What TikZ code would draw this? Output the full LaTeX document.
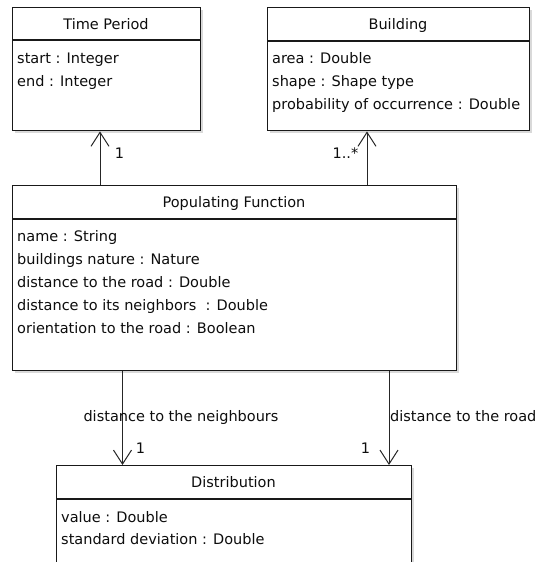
\documentclass[tikz,border=0pt]{standalone}
\usepackage{fontspec}
\setmainfont{DejaVu Sans}
\usetikzlibrary{arrows.meta, shadows, positioning}

\begin{document}
\begin{tikzpicture}[
    x=1pt, y=-1pt,
    every node/.style={font=\fontsize{14.5}{17}\selectfont, text=black!95, inner sep=0pt},
    classbox/.style={draw=black!90, line width=1.4pt, fill=white, anchor=north west,
      drop shadow={shadow xshift=2pt, shadow yshift=-2pt, opacity=0.3}},
    sepline/.style={draw=black!90, line width=1.3pt},
    cname/.style={anchor=base},
    attr/.style={anchor=base west},
    assoc/.style={-{Straight Barb[length=14pt, width=18pt]}, line width=1pt, draw=black!85},
    mult/.style={anchor=base},
]
\useasboundingbox (0,0) rectangle (537,562);
\clip (0,0) rectangle (537,562);

% Time Period
\node[classbox, minimum width=188pt, minimum height=123pt] (tp) at (12,7) {};
\draw[sepline] ([yshift=-33pt]tp.north west) -- ([yshift=-33pt]tp.north east);
\node[cname] (tpName) at (106,29) {Time Period};
\foreach \t [count=\i] in {start : Integer, end : Integer}
  \node[attr] (tpA\i) at (17,41+22.7*\i) {\t};

% Building
\node[classbox, minimum width=262pt, minimum height=123pt] (bd) at (267,7) {};
\draw[sepline] ([yshift=-34pt]bd.north west) -- ([yshift=-34pt]bd.north east);
\node[cname] (bdName) at (398,29) {Building};
\foreach \t [count=\i] in {area : Double, shape : Shape type, probability of occurrence : Double}
  \node[attr] (bdA\i) at (272,41+22.7*\i) {\t};

% Populating Function
\node[classbox, minimum width=444pt, minimum height=185pt] (pf) at (12,185) {};
\draw[sepline] ([yshift=-34pt]pf.north west) -- ([yshift=-34pt]pf.north east);
\node[cname] (pfName) at (234,207) {Populating Function};
\foreach \t [count=\i] in {name : String, buildings nature : Nature, distance to the road : Double,
    distance to its neighbors\ \ : Double, orientation to the road : Boolean}
  \node[attr] (pfA\i) at (17,219+22.8*\i) {\t};

% Distribution
\node[classbox, minimum width=355pt, minimum height=150pt] (ds) at (56,465) {};
\draw[sepline] ([yshift=-34pt]ds.north west) -- ([yshift=-34pt]ds.north east);
\node[cname] (dsName) at (233.5,487) {Distribution};
\foreach \t [count=\i] in {value : Double, standard deviation : Double}
  \node[attr] (dsA\i) at (61,499.5+22.7*\i) {\t};

% associations
\draw[assoc] (pf.north -| 100,0) -- (tp.south -| 100,0);
\draw[assoc] (pf.north -| 367,0) -- (bd.south -| 367,0);
\draw[assoc] (pf.south -| 122.5,0) -- (ds.north -| 122.5,0);
\draw[assoc] (pf.south -| 389,0) -- (ds.north -| 389,0);

% labels
\node[mult] (m1) at (119.5,158) {1};
\node[mult] (m2) at (345.5,158) {1..*};
\node[mult] (m3) at (140.5,453) {1};
\node[mult] (m4) at (365.5,453) {1};
\node[anchor=base] (lNb) at (181,421) {distance to the neighbours};
\node[anchor=base west] (lRd) at (390,421) {distance to the road};

\end{tikzpicture}
\end{document}
